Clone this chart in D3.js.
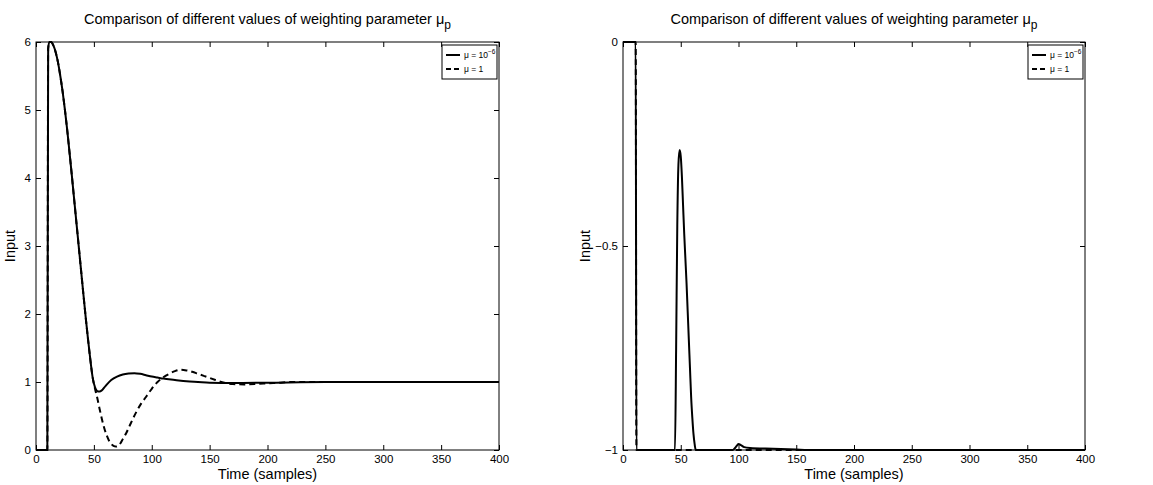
<!DOCTYPE html>
<html><head><meta charset="utf-8">
<script src="https://cdn.jsdelivr.net/npm/d3@7"></script>
<style>body{margin:0;background:#fff}svg{display:block}text{font-family:"Liberation Sans",Arial,Helvetica,sans-serif;fill:#000}</style>
</head><body>
<svg id="c" width="1153" height="485"></svg>
<script>
// ---- data ----
const xTicks = [0, 50, 100, 150, 200, 250, 300, 350, 400];
const leftYTicks = [0, 1, 2, 3, 4, 5, 6];
const rightYTicks = [-1, -0.5, 0];
const legendLabels = ["μ = 10", "μ = 1"];
const legendExp = ["−6", ""];

const leftTimeSolid = [0,9.8,10.5,11.5,13,15,17,19,21,23,25,27,29,31,33,35,37,39,41,43,45,47,49,51,53,55,57,60,65,70,75,80,85,90,95,100,105,110,120,130,140,150,170,200,250,300,400];
const leftSolid     = [0,0,5.9,6.0,6.0,5.95,5.85,5.7,5.5,5.27,5.0,4.7,4.37,4.03,3.68,3.33,2.98,2.63,2.28,1.94,1.62,1.32,1.06,0.92,0.865,0.86,0.88,0.94,1.03,1.08,1.11,1.125,1.13,1.12,1.1,1.08,1.065,1.05,1.03,1.01,1.0,0.99,0.985,0.99,1.0,1.0,1.0];

const leftTimeDashed = [0,9.8,10.5,11.5,13,15,17,19,21,23,25,27,29,31,33,35,37,39,41,43,45,47,49,51,53,55,57,59,61,63,65,67,69,71,73,75,78,81,84,87,90,95,100,105,110,115,120,125,130,135,140,145,150,155,160,165,170,180,190,200,210,220,300,400];
const leftDashed     = [0,0,5.9,6.0,6.0,5.95,5.85,5.7,5.5,5.27,5.0,4.7,4.37,4.03,3.68,3.33,2.98,2.63,2.28,1.94,1.62,1.32,1.06,0.9,0.76,0.6,0.45,0.32,0.22,0.14,0.09,0.06,0.05,0.06,0.1,0.16,0.25,0.36,0.47,0.57,0.66,0.78,0.9,1.0,1.07,1.12,1.16,1.18,1.17,1.15,1.12,1.09,1.06,1.03,1.0,0.98,0.97,0.965,0.97,0.98,0.99,1.0,1.0,1.0];

const rightTimeSolid = [0,11,11.6,20,44,45,46,47,48,49,50,51,52,53,54,55,56,57,58,59,60,61,62,63,70,95,97,99,100,102,105,110,130,150,160,400];
const rightSolid     = [0,0,-1,-1,-1,-1,-0.75,-0.45,-0.3,-0.265,-0.28,-0.33,-0.4,-0.47,-0.53,-0.59,-0.66,-0.73,-0.8,-0.87,-0.92,-0.96,-0.985,-1,-1,-1,-0.995,-0.988,-0.985,-0.988,-0.993,-0.995,-0.997,-0.999,-1,-1];

const rightTimeDashed = [0,11,11.6,400];
const rightDashed     = [0,0,-1,-1];

// ---- drawing ----
const svg = d3.select("#c");

function panel(cfg) {
  const {left, right, top, bottom, yDomain, yTicks, yFmt, series, ylabOff} = cfg;
  const x = d3.scaleLinear().domain([0, 400]).range([left, right]);
  const y = d3.scaleLinear().domain(yDomain).range([bottom, top]);
  const g = svg.append("g");

  const id = "clip" + left;
  svg.append("clipPath").attr("id", id).append("rect")
    .attr("x", left).attr("y", top - 1).attr("width", right - left).attr("height", bottom - top + 2);

  series.forEach(s => {
    const data = s.t.map((t, i) => [t, s.v[i]]);
    g.append("path").datum(data)
      .attr("clip-path", `url(#${id})`)
      .attr("fill", "none").attr("stroke", "#000").attr("stroke-width", 2)
      .attr("stroke-dasharray", s.dash || null)
      .attr("d", d3.line().x(d => x(d[0])).y(d => y(d[1])).curve(d3.curveMonotoneX));
  });

  const ax = (sel) => { sel.select(".domain").remove(); sel.selectAll("line").attr("stroke", "#000"); sel.selectAll("text").style("font-size", "11.5px").style("font-family", '"Liberation Sans",Arial,sans-serif'); };
  g.append("g").attr("transform", `translate(0,${bottom})`)
    .call(d3.axisBottom(x).tickValues(xTicks).tickSizeInner(-5).tickSizeOuter(0).tickPadding(5)).call(ax);
  g.append("g").attr("transform", `translate(0,${top})`)
    .call(d3.axisTop(x).tickValues(xTicks).tickSizeInner(-5).tickSizeOuter(0).tickFormat("")).call(ax);
  g.append("g").attr("transform", `translate(${left},0)`)
    .call(d3.axisLeft(y).tickValues(yTicks).tickSizeInner(-5).tickSizeOuter(0).tickPadding(5).tickFormat(yFmt)).call(ax);
  g.append("g").attr("transform", `translate(${right},0)`)
    .call(d3.axisRight(y).tickValues(yTicks).tickSizeInner(-5).tickSizeOuter(0).tickFormat("")).call(ax);
  g.append("rect").attr("x", left).attr("y", top).attr("width", right - left).attr("height", bottom - top)
    .attr("fill", "none").attr("stroke", "#000").attr("stroke-width", 1);

  const cx = (left + right) / 2;
  const tt = g.append("text").attr("x", cx).attr("y", 24).attr("text-anchor", "middle").style("font-size", "14.5px");
  tt.append("tspan").text("Comparison of different values of weighting parameter μ");
  tt.append("tspan").attr("dy", 5).style("font-size", "12px").text("p");

  g.append("text").attr("x", cx).attr("y", 479).attr("text-anchor", "middle").style("font-size", "14.5px").text("Time (samples)");
  g.append("text").attr("transform", `translate(${left - ylabOff},${(top + bottom) / 2}) rotate(-90)`)
    .attr("text-anchor", "middle").style("font-size", "14.5px").text("Input");

  const lw = 55, lh = 34, lx = right - lw - 2, ly = top + 3;
  const lg = g.append("g");
  lg.append("rect").attr("x", lx).attr("y", ly).attr("width", lw).attr("height", lh)
    .attr("fill", "#fff").attr("stroke", "#000").attr("stroke-width", 1);
  legendLabels.forEach((lab, i) => {
    const yy = ly + 10 + i * 14;
    lg.append("line").attr("x1", lx + 4).attr("x2", lx + 18).attr("y1", yy).attr("y2", yy)
      .attr("stroke", "#000").attr("stroke-width", 2).attr("stroke-dasharray", i === 1 ? "5,3" : null);
    const t = lg.append("text").attr("x", lx + 22).attr("y", yy + 3).style("font-size", "8.5px");
    t.append("tspan").text(lab);
    if (legendExp[i]) t.append("tspan").attr("dy", -4).style("font-size", "6.5px").text(legendExp[i]);
  });
}

panel({left: 36, right: 499, top: 42, bottom: 450, yDomain: [0, 6], yTicks: leftYTicks, yFmt: d3.format("d"), ylabOff: 21,
  series: [{t: leftTimeSolid, v: leftSolid}, {t: leftTimeDashed, v: leftDashed, dash: "6,4"}]});
panel({left: 623, right: 1085, top: 42, bottom: 450, yDomain: [-1, 0], yTicks: rightYTicks, ylabOff: 33,
  yFmt: d => d === 0 ? "0" : d === -1 ? "−1" : "−0.5",
  series: [{t: rightTimeDashed, v: rightDashed, dash: "6,4"}, {t: rightTimeSolid, v: rightSolid}]});
</script>
</body></html>
